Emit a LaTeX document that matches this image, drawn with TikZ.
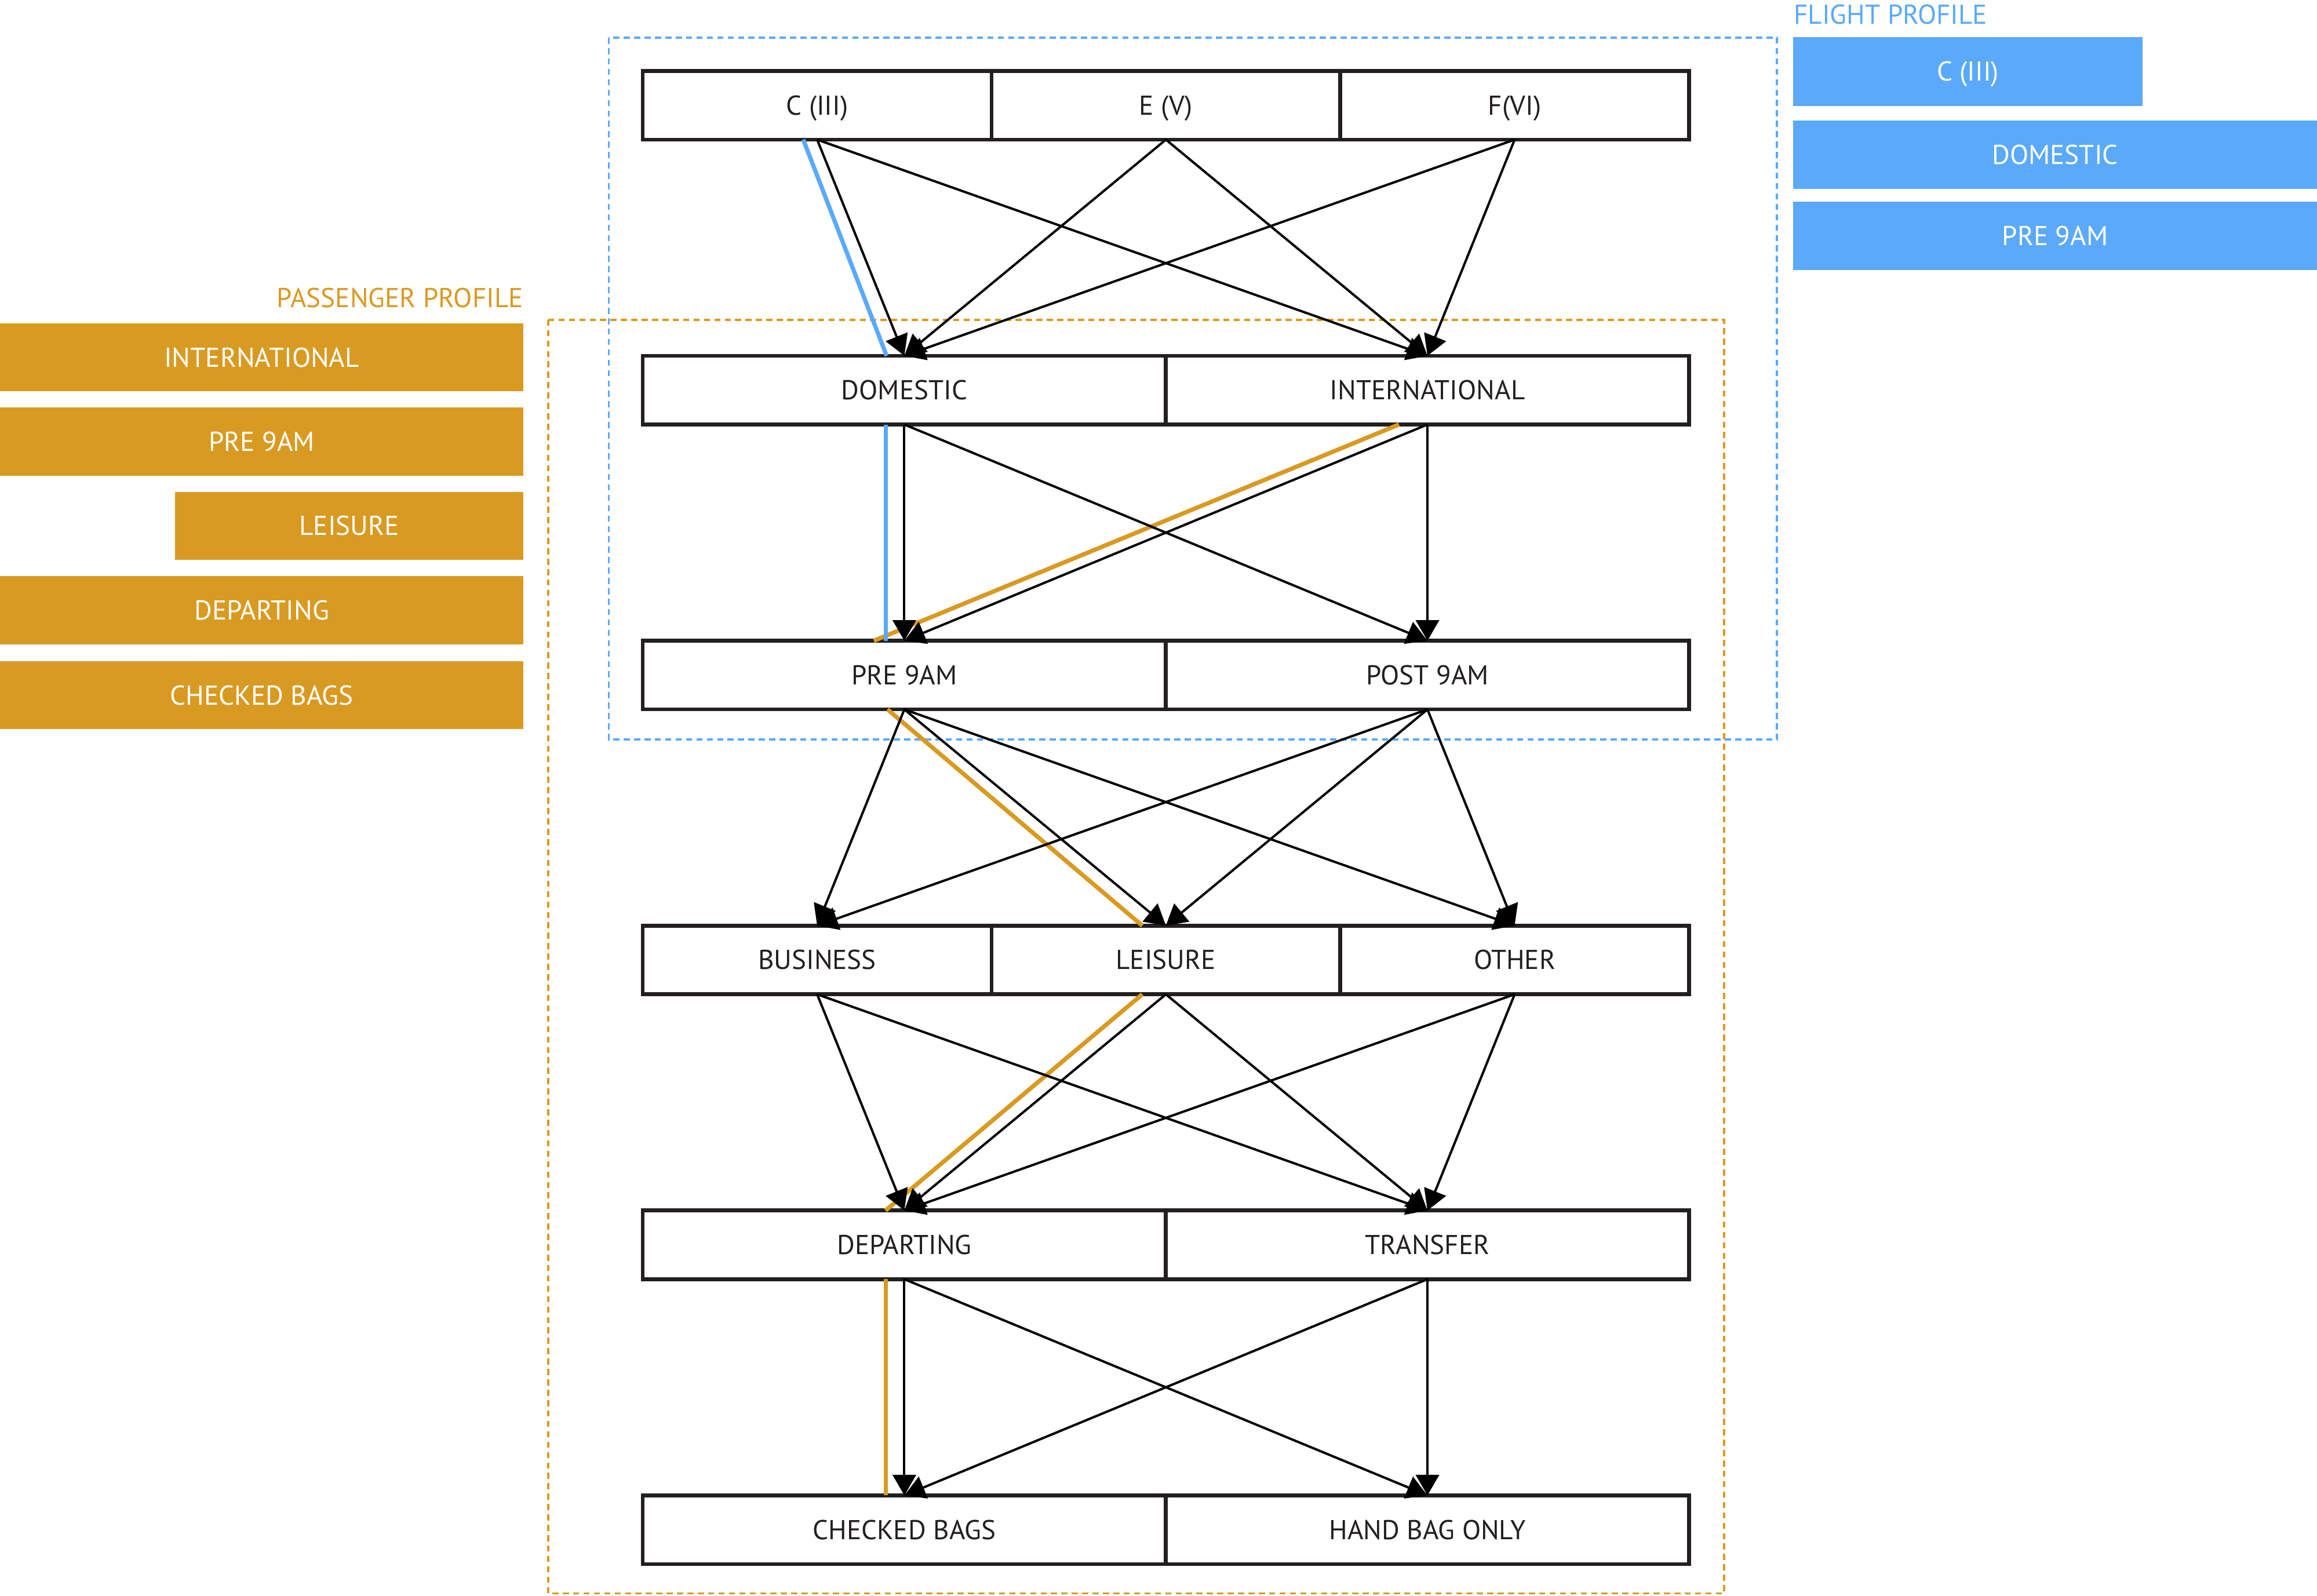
\documentclass[tikz,border=0pt]{standalone}
\usepackage{fontspec}
\setmainfont{PT Sans}
\usetikzlibrary{arrows.meta}
\definecolor{col_5ba9fa}{RGB}{91,169,250}
\definecolor{col_d99a22}{RGB}{217,154,34}
\definecolor{col_231f20}{RGB}{35,31,32}
\definecolor{col_000000}{RGB}{0,0,0}
\newlength{\px}
\setlength{\px}{0.025497cm}
\newcommand{\tikzdrawcell}[5]{%
\node[cell, minimum width={(#3-#2)*\px}] (#1) at ({(#2+#3)/2},{#4+23.25}) {#5};
}
\newcommand{\tikzdrawbar}[7]{%
\node[bar, fill=#2, minimum width={(#5-#3)*\px}, minimum height={(#6-#4)*\px}] (#1) at ({(#3+#5)/2},{(#4+#6)/2}) {#7};
}

\begin{document}
\begin{tikzpicture}[x=0.025497cm, y=-0.025497cm,
  cell/.style={draw=col_231f20, line width=1.9pt, minimum height=46.5\px, inner sep=0pt, outer sep=0pt,
    text=col_231f20, text height=9.4pt, text depth=0pt, font=\fontsize{13.4}{16}\selectfont},
  bar/.style={inner sep=0pt, outer sep=0pt, text=white, text height=9.4pt, text depth=0pt, font=\fontsize{13.4}{16}\selectfont},
  heading/.style={inner sep=0pt, outer sep=0pt, font=\fontsize{13.4}{16}\selectfont},
  arr/.style={draw=col_000000, line width=1.15pt, -{Triangle[length=10.1pt, width=11.4pt]}},
  trace/.style={line width=2.1pt},
  frame/.style={line width=1.1pt, dash pattern=on 3pt off 2.1pt}]
\useasboundingbox (0,0) rectangle (1568,1080.1);
\draw[frame, col_5ba9fa] (412,25.5) rectangle (1202.5,500.5);     %% flight profile frame
\draw[frame, col_d99a22] (371,216.4) rectangle (1166.7,1078.3);   %% passenger profile frame
\node[heading, anchor=base west, text=col_5ba9fa] (flight) at (1214,16.3) {FLIGHT PROFILE};
\node[heading, anchor=base east, text=col_d99a22] (passenger) at (354,207.9) {PASSENGER PROFILE};
\tikzdrawbar{fbar1}{col_5ba9fa}{1213.5}{25.2}{1450}{71.6}{C (III)}
\tikzdrawbar{fbar2}{col_5ba9fa}{1213.5}{81.7}{1568}{127.9}{DOMESTIC}
\tikzdrawbar{fbar3}{col_5ba9fa}{1213.5}{136.6}{1568}{182.8}{PRE 9AM}
\tikzdrawbar{pbar1}{col_d99a22}{0}{218.8}{354.2}{264.8}{INTERNATIONAL}
\tikzdrawbar{pbar2}{col_d99a22}{0}{275.8}{354.2}{322}{PRE 9AM}
\tikzdrawbar{pbar3}{col_d99a22}{118.6}{333}{354.2}{378.8}{LEISURE}
\tikzdrawbar{pbar4}{col_d99a22}{0}{390}{354.2}{436}{DEPARTING}
\tikzdrawbar{pbar5}{col_d99a22}{0}{447.5}{354.2}{493.5}{CHECKED BAGS}
\tikzdrawcell{cat_c}{435}{671}{48}{C (III)}
\tikzdrawcell{cat_e}{671}{907}{48}{E (V)}
\tikzdrawcell{cat_f}{907}{1143}{48}{F(VI)}
\tikzdrawcell{dom}{435}{789}{240.8}{DOMESTIC}
\tikzdrawcell{intl}{789}{1143}{240.8}{INTERNATIONAL}
\tikzdrawcell{pre}{435}{789}{433.6}{PRE 9AM}
\tikzdrawcell{post}{789}{1143}{433.6}{POST 9AM}
\tikzdrawcell{bus}{435}{671}{626.4}{BUSINESS}
\tikzdrawcell{lei}{671}{907}{626.4}{LEISURE}
\tikzdrawcell{oth}{907}{1143}{626.4}{OTHER}
\tikzdrawcell{dep}{435}{789}{819.2}{DEPARTING}
\tikzdrawcell{tra}{789}{1143}{819.2}{TRANSFER}
\tikzdrawcell{chk}{435}{789}{1012}{CHECKED BAGS}
\tikzdrawcell{hand}{789}{1143}{1012}{HAND BAG ONLY}
\draw[trace, col_d99a22] ([xshift=-19.3\px]intl.south) -- ([xshift=-20.6\px]pre.north);
\draw[trace, col_d99a22] ([xshift=-11.4\px]pre.south) -- ([xshift=-16\px]lei.north);
\draw[trace, col_d99a22] ([xshift=-16\px]lei.south) -- ([xshift=-12.7\px]dep.north);
\draw[trace, col_d99a22] ([xshift=-12.5\px]dep.south) -- ([xshift=-12.5\px]chk.north);
\draw[trace, col_5ba9fa] ([xshift=-9.4\px]cat_c.south) -- ([xshift=-12\px]dom.north);
\draw[trace, col_5ba9fa] ([xshift=-12.5\px]dom.south) -- ([xshift=-12.5\px]pre.north);
\foreach \s in {cat_c,cat_e,cat_f}{\foreach \t in {dom,intl}{\draw[arr] (\s.south) -- (\t.north);}}
\foreach \s in {dom,intl}{\foreach \t in {pre,post}{\draw[arr] (\s.south) -- (\t.north);}}
\foreach \s in {pre,post}{\foreach \t in {bus,lei,oth}{\draw[arr] (\s.south) -- (\t.north);}}
\foreach \s in {bus,lei,oth}{\foreach \t in {dep,tra}{\draw[arr] (\s.south) -- (\t.north);}}
\foreach \s in {dep,tra}{\foreach \t in {chk,hand}{\draw[arr] (\s.south) -- (\t.north);}}
\end{tikzpicture}
\end{document}
